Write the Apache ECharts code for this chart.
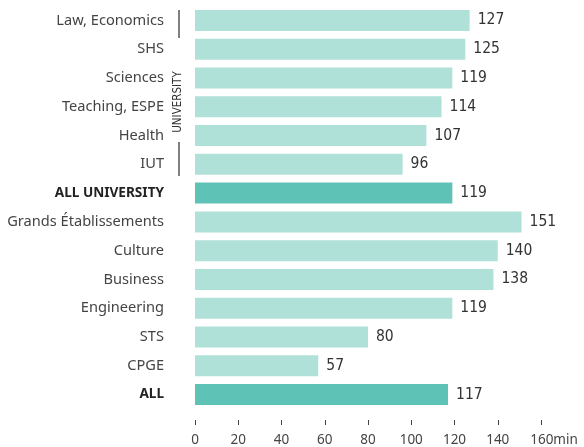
<!DOCTYPE html>
<html>
<head>
<meta charset="utf-8">
<script src="https://cdn.jsdelivr.net/npm/echarts@6/dist/echarts.min.js"></script>
<style>
  html, body { margin: 0; padding: 0; background: #fff; }
</style>
</head>
<body>
<div id="chart1" style="width:584px;height:447px"></div>
<script>
var categories = ['Law, Economics', 'SHS', 'Sciences', 'Teaching, ESPE', 'Health', 'IUT',
    'ALL UNIVERSITY', 'Grands Établissements', 'Culture', 'Business', 'Engineering', 'STS', 'CPGE', 'ALL'];
var values = [127, 125, 119, 114, 107, 96, 119, 151, 140, 138, 119, 80, 57, 117];
var totals = ['ALL UNIVERSITY', 'ALL'];
var xTicks = [0, 20, 40, 60, 80, 100, 120, 140, 160];

var light = '#afe1d9';
var dark = '#5ec3b6';

var myChart1 = echarts.init(document.getElementById('chart1'));
var option = {
    animation: false,
    grid: {
        left: 195,
        right: 43,
        top: 6,
        bottom: 37,
        containLabel: false
    },
    xAxis: {
        type: 'value',
        min: xTicks[0],
        max: xTicks[xTicks.length - 1],
        interval: 20,
        offset: 11,
        splitLine: { show: false },
        axisLine: { show: false },
        axisTick: { show: true, length: 5, lineStyle: { color: '#444', width: 1 } },
        axisLabel: {
            margin: 13,
            color: '#444',
            fontSize: 13.5,
            fontFamily: 'Noto Sans',
            formatter: function (v) {
                return v === 160 ? '{p|}{a|160}{m|min}' : String(v);
            },
            rich: {
                p: { width: 26 },
                a: { color: '#444', fontSize: 13.5, fontFamily: 'Noto Sans' },
                m: { color: '#444', fontSize: 13.5, fontFamily: 'Noto Sans' }
            }
        }
    },
    yAxis: {
        type: 'category',
        data: categories,
        inverse: true,
        axisLine: { show: false },
        axisTick: { show: false },
        axisLabel: {
            margin: 31,
            fontSize: 14.6,
            fontFamily: 'Noto Sans',
            color: '#444',
            formatter: function (v) {
                return totals.indexOf(v) >= 0 ? '{b|' + v + '}' : v;
            },
            rich: {
                b: { fontWeight: 'bold', color: '#222', fontSize: 13.6, fontFamily: 'Noto Sans' }
            }
        }
    },
    series: [{
        type: 'bar',
        barCategoryGap: '27%',
        data: values.map(function (v, i) {
            return {
                value: v,
                itemStyle: { color: totals.indexOf(categories[i]) >= 0 ? dark : light }
            };
        }),
        label: {
            show: true,
            position: 'right',
            distance: 8,
            color: '#333',
            fontSize: 15.5,
            fontFamily: 'DejaVu Sans Condensed'
        }
    }],
    graphic: [
        { type: 'line', shape: { x1: 179, y1: 10, x2: 179, y2: 38 }, style: { stroke: '#555', lineWidth: 1.5 } },
        { type: 'line', shape: { x1: 179, y1: 142, x2: 179, y2: 176 }, style: { stroke: '#555', lineWidth: 1.5 } },
        {
            type: 'text',
            x: 178.5, y: 102,
            rotation: Math.PI / 2,
            style: {
                text: 'UNIVERSITY',
                fill: '#333',
                fontSize: 11.5,
                fontFamily: 'DejaVu Sans Condensed',
                align: 'center',
                verticalAlign: 'middle'
            }
        }
    ]
};
myChart1.setOption(option);
</script>
</body>
</html>
